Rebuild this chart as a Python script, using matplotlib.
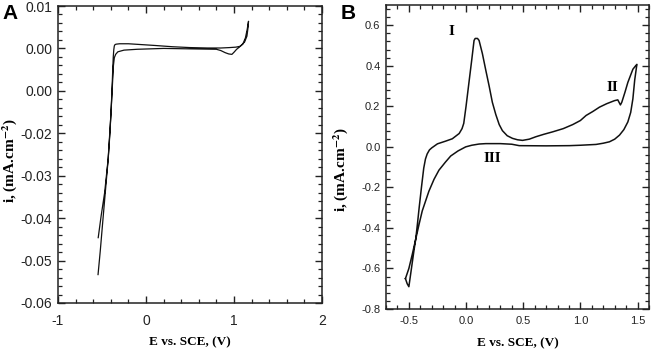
import matplotlib
matplotlib.use("Agg")
import matplotlib.pyplot as plt
from matplotlib.ticker import AutoMinorLocator

# ---- panel A: cyclic voltammogram, small current window ----
a_E = [-0.545, -0.52, -0.49, -0.46, -0.43, -0.41, -0.395, -0.385, -0.378, -0.372,
       -0.366, -0.360, -0.352, -0.34, -0.30, -0.20, -0.05, 0.10, 0.30, 0.50,
       0.70, 0.85, 0.95, 1.02, 1.07, 1.10, 1.13, 1.15, 1.165,
       1.16, 1.147, 1.12, 1.09, 1.06, 1.03, 1.00, 0.976, 0.94, 0.90, 0.85,
       0.80, 0.50, 0.20, -0.10, -0.25, -0.32, -0.345, -0.36, -0.37, -0.38,
       -0.40, -0.43, -0.47, -0.51, -0.543]
a_i = [-0.0533, -0.0478, -0.0405, -0.0333, -0.0262, -0.0200, -0.0140, -0.0090, -0.0050, -0.0020,
       -0.0003, 0.0006, 0.0009, 0.0010, 0.0011, 0.0011, 0.0009, 0.0007, 0.0004, 0.0002,
       0.0001, 0.0001, 0.0002, 0.0003, 0.0005, 0.0010, 0.0025, 0.0045, 0.0064,
       0.0050, 0.0029, 0.0015, 0.0009, 0.0003, -0.0002, -0.0009, -0.0014, -0.0013, -0.0010, -0.0005,
       -0.0002, -0.0001, 0.0, -0.0002, -0.0004, -0.0008, -0.0014, -0.0022, -0.0040, -0.0080,
       -0.0160, -0.0260, -0.0340, -0.0395, -0.0446]
a_xticks = [-1, 0, 1, 2]
a_yticks = [-0.06, -0.05, -0.04, -0.03, -0.02, -0.01, 0.00, 0.01]
a_yticklabels = ['-0.06', '-0.05', '-0.04', '-0.03', '-0.02', '0.00', '0.00', '0.01']

# ---- panel B: cyclic voltammogram with peaks I, II, III ----
b_E_fwd = [-0.53, -0.515, -0.50, -0.485, -0.47, -0.455, -0.44, -0.425, -0.41, -0.39,
           -0.37, -0.355, -0.34, -0.32, -0.30, -0.25, -0.18, -0.12, -0.06, -0.035,
           -0.02, 0.0, 0.026, 0.05, 0.07, 0.08, 0.10, 0.114, 0.143, 0.172,
           0.202, 0.23, 0.26, 0.29, 0.318, 0.36, 0.406, 0.45, 0.494, 0.553,
           0.611, 0.68, 0.757, 0.85, 0.933, 1.0, 1.05, 1.11, 1.167, 1.23,
           1.298, 1.327, 1.35, 1.362, 1.39, 1.415, 1.44, 1.459, 1.48, 1.494]
b_i_fwd = [-0.65, -0.675, -0.69, -0.63, -0.57, -0.51, -0.455, -0.38, -0.30, -0.20,
           -0.105, -0.06, -0.035, -0.015, -0.005, 0.015, 0.028, 0.04, 0.066, 0.09,
           0.116, 0.20, 0.32, 0.43, 0.525, 0.535, 0.535, 0.525, 0.46, 0.38,
           0.30, 0.22, 0.16, 0.11, 0.08, 0.055, 0.042, 0.035, 0.032, 0.038,
           0.05, 0.062, 0.074, 0.09, 0.11, 0.13, 0.155, 0.175, 0.196, 0.213,
           0.228, 0.232, 0.207, 0.22, 0.27, 0.318, 0.355, 0.383, 0.398, 0.407]
b_E_rev = [1.475, 1.459, 1.44, 1.415, 1.38, 1.342, 1.30, 1.254, 1.20, 1.137,
           1.0, 0.904, 0.70, 0.465, 0.40, 0.30, 0.173, 0.114, 0.05, -0.003,
           -0.07, -0.134, -0.18, -0.237, -0.28, -0.325, -0.383, -0.41, -0.44, -0.47,
           -0.50, -0.53]
b_i_rev = [0.33, 0.237, 0.17, 0.123, 0.085, 0.058, 0.038, 0.025, 0.018, 0.012,
           0.008, 0.006, 0.005, 0.006, 0.013, 0.016, 0.016, 0.014, 0.008, 0.0,
           -0.02, -0.045, -0.075, -0.115, -0.16, -0.219, -0.316, -0.38, -0.455, -0.53,
           -0.60, -0.65]
b_xticks = [-0.5, 0.0, 0.5, 1.0, 1.5]
b_yticks = [-0.8, -0.6, -0.4, -0.2, 0.0, 0.2, 0.4, 0.6]
b_peaks = ['I', 'II', 'III']
b_peak_E = [-0.125, 1.283, 0.23]
b_peak_i = [0.57, 0.294, -0.056]

plt.rcParams['font.family'] = 'Liberation Sans'
plt.rcParams['mathtext.fontset'] = 'stix'
plt.rcParams['axes.unicode_minus'] = False

fig = plt.figure(figsize=(6.51, 3.52), dpi=100)
W, H = 651.0, 352.0
axA = fig.add_axes([58 / W, (H - 303) / H, 264 / W, 297 / H])
axB = fig.add_axes([386 / W, (H - 309) / H, 263 / W, 304 / H])

xlab_font = dict(family='Liberation Serif', fontweight='bold', fontsize=9.5)
ylab_font = dict(family='Liberation Serif', fontweight='bold', fontsize=11)
ylab = r'i, (mA.cm$^{\mathbf{-2}}$)'


def style(ax, size, xpad):
    for s in ax.spines.values():
        s.set_linewidth(1.1)
        s.set_color('#222222')
    ax.xaxis.set_minor_locator(AutoMinorLocator(5))
    ax.yaxis.set_minor_locator(AutoMinorLocator(5))
    ax.tick_params(which='both', direction='in', top=True, right=True, color='#222222')
    ax.tick_params(which='major', length=5, width=1)
    ax.tick_params(which='minor', length=3, width=0.9)
    ax.tick_params(axis='y', labelsize=size, pad=4, labelcolor='#222222')
    ax.tick_params(axis='x', labelsize=size, pad=xpad, labelcolor='#222222')


# panel A
axA.plot(a_E, a_i, color='#111111', lw=0.9)
axA.set_xlim(-1, 2)
axA.set_ylim(-0.06, 0.01)
axA.set_xticks(a_xticks)
axA.set_yticks(a_yticks, a_yticklabels)
style(axA, 10, 8)
axA.set_xlabel('E vs. SCE, (V)', **xlab_font)
axA.set_ylabel(ylab, **ylab_font)
axA.xaxis.set_label_coords(0.5, -0.111)
axA.yaxis.set_label_coords(-0.148, 0.48)

# panel B
axB.plot(b_E_fwd + b_E_rev, b_i_fwd + b_i_rev, color='#111111', lw=1.1)
axB.set_xlim(-0.7, 1.6)
axB.set_ylim(-0.8, 0.7)
axB.set_xticks(b_xticks, ['-0.5', '0.0', '0.5', '1.0', '1.5'])
axB.set_yticks(b_yticks, ['-0.8', '-0.6', '-0.4', '-0.2', '0.0', '0.2', '0.4', '0.6'])
style(axB, 8, 5)
axB.set_xlabel('E vs. SCE, (V)', **xlab_font)
axB.set_ylabel(ylab, **ylab_font)
axB.xaxis.set_label_coords(0.5, -0.092)
axB.yaxis.set_label_coords(-0.138, 0.457)
for t, x, y in zip(b_peaks, b_peak_E, b_peak_i):
    axB.text(x, y, t, family='Liberation Serif', fontweight='bold', fontsize=11,
             ha='center', va='center')

fig.text(2 / W, 1 - 4 / H, 'A', fontsize=15, fontweight='bold', va='top', ha='left')
fig.text(341 / W, 1 - 4 / H, 'B', fontsize=15, fontweight='bold', va='top', ha='left')

fig.savefig('out.png', dpi=100)
